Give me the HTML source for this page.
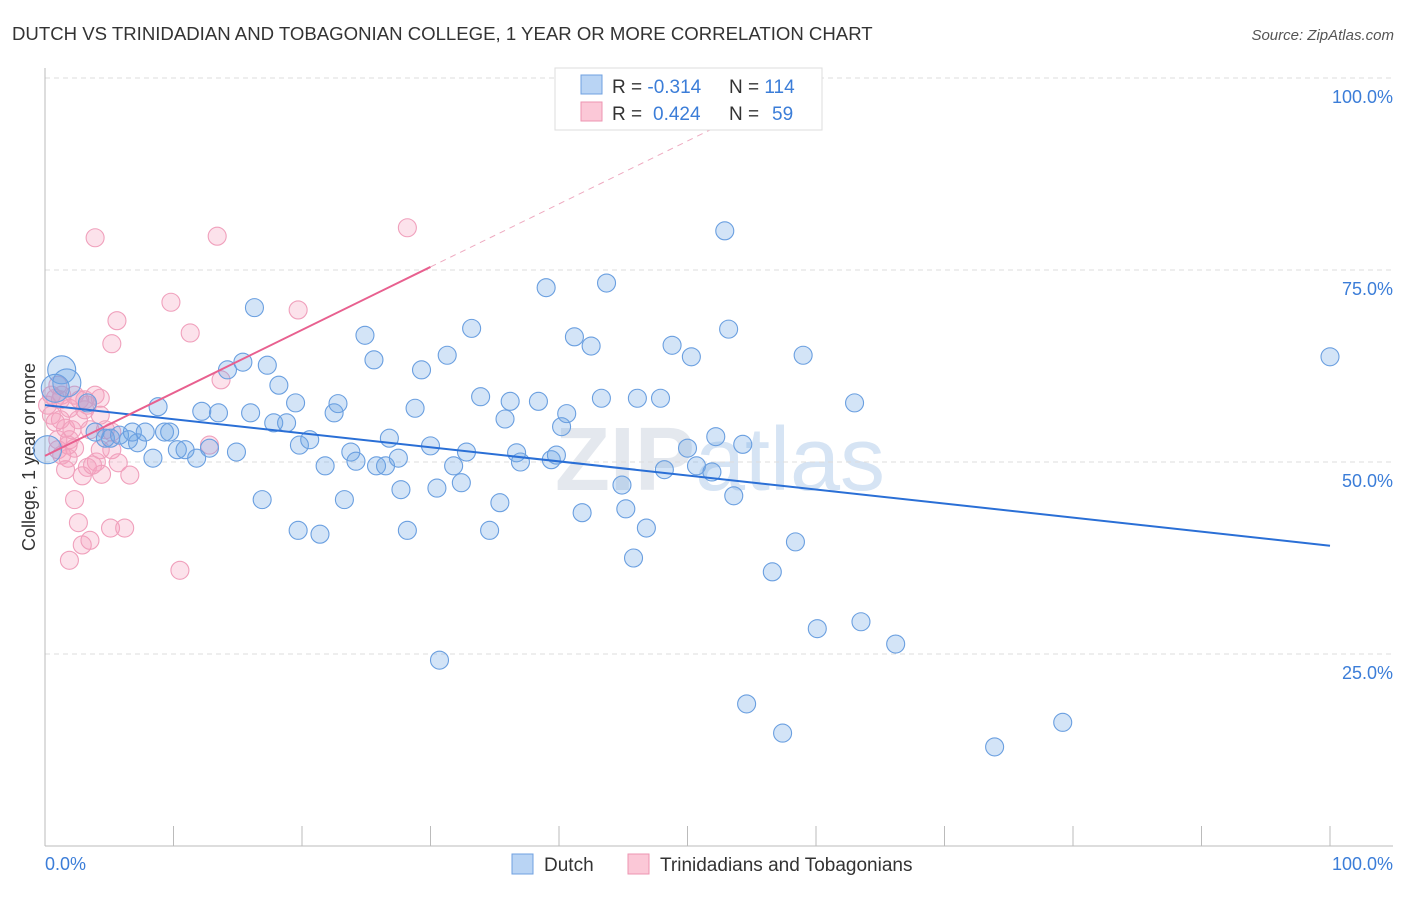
<!DOCTYPE html>
<html><head><meta charset="utf-8"><style>
body{margin:0;background:#fff;font-family:"Liberation Sans",sans-serif}
svg text{font-family:"Liberation Sans",sans-serif}
</style></head><body>
<svg id="c" width="1406" height="892" xmlns="http://www.w3.org/2000/svg">
<text x="12" y="40" font-size="18.6" fill="#333">DUTCH VS TRINIDADIAN AND TOBAGONIAN COLLEGE, 1 YEAR OR MORE CORRELATION CHART</text>
<text x="1394" y="40" font-size="15" fill="#555" font-style="italic" text-anchor="end">Source: ZipAtlas.com</text>
<text x="720" y="490" font-size="90" fill="#e4e8ee" text-anchor="middle" font-weight="bold">ZIP<tspan font-weight="normal" fill="#d6e4f4">atlas</tspan></text>
<g id="grid"></g>
<line x1="45" y1="68" x2="45" y2="846" stroke="#bbb"/>
<line x1="45" y1="846" x2="1393" y2="846" stroke="#bbb"/>
<g id="ticks"></g>
<text x="35" y="457" font-size="18" fill="#333" text-anchor="middle" transform="rotate(-90 35 457)">College, 1 year or more</text>
<text x="45" y="870" font-size="18" fill="#3b7dd8">0.0%</text>
<text x="1393" y="870" font-size="18" fill="#3b7dd8" text-anchor="end">100.0%</text>
<g id="pts"></g>
<g id="lines"></g>
<g>
<rect x="555" y="68" width="267" height="62" fill="#fff" stroke="#ddd"/>
<rect x="581" y="75" width="21" height="19" fill="#b9d4f4" stroke="#6fa0e0"/>
<rect x="581" y="102" width="21" height="19" fill="#fbc8d7" stroke="#ee94b2"/>
<text x="612" y="93" font-size="19" fill="#333">R = <tspan fill="#3b7dd8">-0.314</tspan><tspan x="729">N = </tspan><tspan fill="#3b7dd8">114</tspan></text>
<text x="612" y="120" font-size="19" fill="#333">R = <tspan fill="#3b7dd8" x="653">0.424</tspan><tspan x="729">N = </tspan><tspan fill="#3b7dd8" x="772">59</tspan></text>
</g>
<g>
<rect x="512" y="854" width="21" height="20" fill="#b9d4f4" stroke="#6fa0e0"/>
<text x="544" y="871" font-size="19" fill="#333">Dutch</text>
<rect x="628" y="854" width="21" height="20" fill="#fbc8d7" stroke="#ee94b2"/>
<text x="660" y="871" font-size="19" fill="#333">Trinidadians and Tobagonians</text>
</g>
</svg>
<script>
const yTicks=[100,75,50,25];
const yTickLabels=["100.0%","75.0%","50.0%","25.0%"];
const xTicks=[0,10,20,30,40,50,60,70,80,90,100];
const dutchX=[1.3,1.7,0.8,0.2,3.3,3.9,4.7,5.1,5.8,6.5,7.2,6.8,7.8,8.4,8.8,9.3,9.7,10.3,10.9,11.8,12.2,12.8,13.5,14.2,14.9,15.4,16.0,16.3,16.9,17.3,17.8,18.2,18.8,19.5,19.8,20.6,19.7,21.4,21.8,22.5,22.8,23.3,23.8,24.2,24.9,25.6,25.8,26.5,26.8,27.5,27.7,28.2,28.8,29.3,30.0,30.5,30.7,31.3,31.8,32.4,32.8,33.2,33.9,34.6,35.4,35.8,36.2,36.7,37.0,38.4,39.0,39.4,39.8,40.2,40.6,41.2,41.8,42.5,43.3,43.7,44.9,45.2,45.8,46.1,46.8,47.9,48.2,48.8,50.0,50.3,50.7,51.9,52.2,52.9,53.2,53.6,54.3,54.6,56.6,57.4,58.4,59.0,60.1,63.0,63.5,66.2,73.9,79.2,100.0];
const dutchY=[62.0,60.3,59.6,51.6,57.7,53.9,53.1,53.1,53.5,52.9,52.5,53.9,53.9,50.5,57.2,53.9,53.9,51.6,51.6,50.5,56.6,51.8,56.4,62.0,51.3,63.0,56.4,70.1,45.1,62.6,55.1,60.0,55.1,57.7,52.2,52.9,41.1,40.6,49.5,56.4,57.6,45.1,51.3,50.1,66.5,63.3,49.5,49.5,53.1,50.5,46.4,41.1,57.0,62.0,52.1,46.6,24.2,63.9,49.5,47.3,51.3,67.4,58.5,41.1,44.7,55.6,57.9,51.2,50.0,57.9,72.7,50.3,50.9,54.6,56.3,66.3,43.4,65.1,58.3,73.3,47.0,43.9,37.5,58.3,41.4,58.3,49.0,65.2,51.8,63.7,49.5,48.7,53.3,80.1,67.3,45.6,52.3,18.5,35.7,14.7,39.6,63.9,28.3,57.7,29.2,26.3,12.9,16.1,63.7];
const trinX=[1.0,1.3,1.9,0.8,0.5,1.2,1.6,1.9,2.3,1.0,1.3,1.8,2.6,3.1,3.5,3.9,4.3,4.7,5.2,5.7,4.0,3.3,2.9,4.4,6.6,2.6,2.9,2.3,1.9,3.5,5.1,6.2,10.5,3.9,13.4,28.2,9.8,5.6,19.7,11.3,5.2,13.7,12.8,4.3,0.8,0.2,0.5,3.3,1.6,1.0,2.1,3.7,5.2,2.7,1.2,4.3,3.1,2.3,1.8];
const trinY=[60.0,58.7,57.0,58.3,56.1,55.5,54.4,52.9,51.8,51.6,50.9,50.5,55.5,58.1,54.2,58.7,58.3,54.2,51.6,49.9,50.0,49.3,48.2,48.4,48.3,42.1,39.2,45.1,37.2,39.8,41.4,41.4,35.9,79.2,79.4,80.5,70.8,68.4,69.8,66.8,65.4,60.7,52.2,56.1,55.2,57.4,58.7,57.4,49.0,52.9,54.2,49.6,53.9,58.1,58.1,51.6,56.8,58.7,52.2];
const dutchFit=[57.4,39.1];
const trinFit=[50.8,75.4];
const NS="http://www.w3.org/2000/svg";
const sx=v=>45+v*12.85, sy=v=>846-v*7.68;
function mk(t,a,p){const e=document.createElementNS(NS,t);for(const k in a)e.setAttribute(k,a[k]);p.appendChild(e);return e;}
const grid=document.getElementById('grid');
yTicks.forEach((t,i)=>{
 const l=mk('line',{x1:45,x2:1393,y1:sy(t),y2:sy(t),stroke:'#ddd','stroke-dasharray':'5,4'},grid);
 
 
 const tx=mk('text',{x:1393,y:sy(t)+25,'font-size':18,fill:'#3b7dd8','text-anchor':'end'},grid);
 tx.textContent=yTickLabels[i];
 
 
});
const tk=document.getElementById('ticks');
xTicks.forEach(t=>{const l=mk('line',{x1:sx(t),x2:sx(t),y1:826,y2:846,stroke:'#bbb'},tk);
 
 });
const pts=document.getElementById('pts');
trinX.forEach((x,i)=>{const c=mk('circle',{cx:sx(x),cy:sy(trinY[i]),r:9,fill:'rgba(244,160,190,0.3)',stroke:'#f0a0bc','stroke-width':1.1},pts);
 
 });
dutchX.forEach((x,i)=>{const c=mk('circle',{cx:sx(x),cy:sy(dutchY[i]),r:i<4?14:9,fill:'rgba(110,165,230,0.3)',stroke:'#6a9fe0','stroke-width':1.1},pts);
 
 });
const ln=document.getElementById('lines');
const bl=mk('line',{x1:sx(0),y1:sy(dutchFit[0]),x2:sx(100),y2:sy(dutchFit[1]),stroke:'#2a6fd6','stroke-width':2},ln);


const slope=(trinFit[1]-trinFit[0])/30;
const pl=mk('line',{x1:sx(0),y1:sy(trinFit[0]),x2:sx(30),y2:sy(trinFit[1]),stroke:'#e8608f','stroke-width':2},ln);


const xe=(100-trinFit[0])/slope;
const pd=mk('line',{x1:sx(30),y1:sy(trinFit[1]),x2:sx(xe),y2:sy(100),stroke:'#eeaac0','stroke-width':1,'stroke-dasharray':'6,5'},ln);


</script>
</body></html>
